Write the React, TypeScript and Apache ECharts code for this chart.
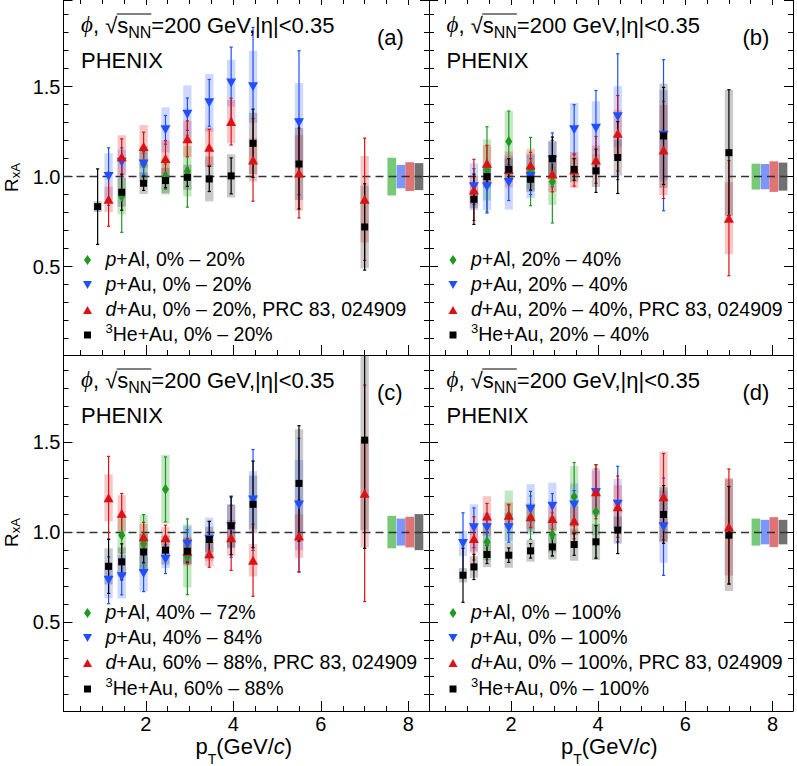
import React, { useEffect, useRef } from 'react';
import * as echarts from 'echarts';

// ---- data rows: [pT, R_xA, stat. error, syst. error] ----
// panel (a): 0-20 %
const alA = [[1.45, 0.89, 0.2, 0.1], [1.95, 1.07, 0.06, 0.1], [2.45, 1.0, 0.07, 0.1], [2.95, 1.03, 0.2, 0.14]];
const auA = [[1.15, 1.0, 0.16, 0.13], [1.45, 1.08, 0.08, 0.07], [1.95, 1.07, 0.07, 0.08], [2.45, 1.26, 0.08, 0.125], [2.95, 1.347, 0.09, 0.16], [3.45, 1.41, 0.13, 0.16], [3.95, 1.52, 0.2, 0.13], [4.45, 1.5, 0.33, 0.2], [5.5, 1.3, 0.4, 0.22]];
const dA = [[1.15, 0.874, 0.15, 0.07], [1.45, 1.11, 0.1, 0.12], [1.95, 1.167, 0.08, 0.12], [2.45, 1.1, 0.1, 0.1], [2.95, 1.21, 0.1, 0.1], [3.45, 1.163, 0.1, 0.11], [3.95, 1.306, 0.13, 0.12], [4.45, 1.093, 0.23, 0.12], [5.5, 1.02, 0.25, 0.21], [7.0, 0.874, 0.34, 0.24]];
const heA = [[0.9, 0.833, 0.21, 0.03], [1.45, 0.913, 0.1, 0.08], [1.95, 0.963, 0.04, 0.06], [2.45, 0.978, 0.04, 0.07], [2.95, 0.996, 0.05, 0.07], [3.45, 0.987, 0.07, 0.125], [3.95, 1.004, 0.1, 0.12], [4.45, 1.185, 0.19, 0.17], [5.5, 1.07, 0.25, 0.2], [7.0, 0.72, 0.24, 0.23]];
// panel (b): 20-40 %
const alB = [[1.45, 1.037, 0.24, 0.17], [1.95, 1.195, 0.17, 0.17], [2.45, 1.028, 0.19, 0.1], [2.95, 0.972, 0.23, 0.13]];
const auB = [[1.15, 0.944, 0.1, 0.13], [1.45, 0.944, 0.14, 0.13], [1.95, 0.967, 0.1, 0.15], [2.45, 1.0, 0.1, 0.12], [2.95, 1.093, 0.15, 0.1], [3.45, 1.26, 0.14, 0.15], [3.95, 1.269, 0.21, 0.15], [4.45, 1.333, 0.35, 0.17], [5.5, 1.23, 0.42, 0.25]];
const dB = [[1.15, 0.926, 0.17, 0.08], [1.45, 1.074, 0.1, 0.1], [1.95, 1.04, 0.06, 0.1], [2.45, 1.065, 0.07, 0.09], [2.95, 1.015, 0.1, 0.1], [3.45, 1.037, 0.09, 0.1], [3.95, 1.093, 0.13, 0.08], [4.45, 1.241, 0.21, 0.13], [5.5, 1.148, 0.27, 0.25], [7.0, 0.769, 0.32, 0.2]];
const heB = [[1.15, 0.874, 0.14, 0.05], [1.45, 1.0, 0.06, 0.06], [1.95, 1.04, 0.06, 0.06], [2.45, 0.985, 0.06, 0.07], [2.95, 1.1, 0.12, 0.1], [3.45, 1.04, 0.06, 0.07], [3.95, 1.032, 0.12, 0.09], [4.45, 1.106, 0.2, 0.1], [5.5, 1.226, 0.27, 0.29], [7.0, 1.133, 0.35, 0.35]];
// panel (c): peripheral
const alC = [[1.45, 0.983, 0.1, 0.1], [1.95, 0.937, 0.16, 0.16], [2.45, 1.237, 0.18, 0.19], [2.95, 0.863, 0.21, 0.17]];
const auC = [[1.15, 0.733, 0.13, 0.1], [1.45, 0.752, 0.1, 0.12], [1.95, 0.77, 0.1, 0.1], [2.45, 0.85, 0.08, 0.05], [2.95, 0.933, 0.08, 0.11], [3.45, 0.96, 0.1, 0.12], [3.95, 1.03, 0.17, 0.12], [4.45, 1.178, 0.28, 0.16], [5.5, 1.15, 0.37, 0.25]];
const dC = [[1.15, 1.19, 0.23, 0.13], [1.45, 1.104, 0.11, 0.1], [1.95, 0.974, 0.08, 0.07], [2.45, 0.968, 0.07, 0.06], [2.95, 0.894, 0.07, 0.08], [3.45, 0.88, 0.075, 0.07], [3.95, 0.968, 0.18, 0.1], [4.45, 0.844, 0.2, 0.09], [5.5, 0.978, 0.2, 0.12], [7.0, 1.215, 0.6, 0.3]];
const heC = [[1.15, 0.81, 0.15, 0.1], [1.45, 0.835, 0.1, 0.08], [1.95, 0.89, 0.06, 0.1], [2.45, 0.9, 0.05, 0.08], [2.95, 0.894, 0.06, 0.07], [3.45, 0.959, 0.1, 0.07], [3.95, 1.035, 0.16, 0.12], [4.45, 1.154, 0.24, 0.16], [5.5, 1.27, 0.32, 0.3], [7.0, 1.51, 0.6, 0.5]];
// panel (d): minimum bias
const alD = [[1.45, 0.946, 0.1, 0.1], [1.95, 1.09, 0.06, 0.14], [2.45, 1.08, 0.12, 0.08], [2.95, 0.987, 0.12, 0.1], [3.45, 1.196, 0.19, 0.17], [3.95, 1.113, 0.26, 0.13]];
const auD = [[0.9, 0.937, 0.17, 0.07], [1.15, 1.024, 0.11, 0.13], [1.45, 1.024, 0.08, 0.08], [1.95, 1.024, 0.08, 0.08], [2.45, 1.126, 0.1, 0.14], [2.95, 1.144, 0.07, 0.13], [3.45, 1.15, 0.08, 0.12], [3.95, 1.22, 0.13, 0.12], [4.45, 1.155, 0.21, 0.14], [5.5, 1.03, 0.27, 0.2]];
const dD = [[1.15, 0.965, 0.12, 0.08], [1.45, 1.089, 0.07, 0.11], [1.95, 1.094, 0.06, 0.07], [2.45, 1.085, 0.06, 0.07], [2.95, 1.076, 0.06, 0.07], [3.45, 1.063, 0.1, 0.08], [3.95, 1.224, 0.15, 0.13], [4.45, 1.141, 0.17, 0.12], [5.5, 1.196, 0.24, 0.25], [7.0, 1.03, 0.32, 0.27]];
const heD = [[0.9, 0.761, 0.15, 0.04], [1.15, 0.807, 0.07, 0.06], [1.45, 0.876, 0.05, 0.07], [1.95, 0.872, 0.04, 0.07], [2.45, 0.896, 0.04, 0.06], [2.95, 0.918, 0.05, 0.07], [3.45, 0.931, 0.06, 0.09], [3.95, 0.946, 0.09, 0.1], [4.45, 1.011, 0.13, 0.075], [5.5, 1.098, 0.16, 0.15], [7.0, 0.983, 0.27, 0.31]];

// global normalisation uncertainties (p+Al, p+Au, d+Au, 3He+Au)
const normA = [0.105, 0.065, 0.08, 0.075];
const normB = [0.072, 0.07, 0.085, 0.078];
const normC = [0.09, 0.075, 0.085, 0.1];
const normD = [0.075, 0.068, 0.083, 0.068];

const centA = ['0% – 20%', '0% – 20%', '0% – 20%', '0% – 20%'];
const centB = ['20% – 40%', '20% – 40%', '20% – 40%', '20% – 40%'];
const centC = ['40% – 72%', '40% – 84%', '60% – 88%', '60% – 88%'];
const centD = ['0% – 100%', '0% – 100%', '0% – 100%', '0% – 100%'];
const tags = ['(a)', '(b)', '(c)', '(d)'];

const PANELS = [
  { al: alA, au: auA, d: dA, he: heA, norm: normA, cent: centA },
  { al: alB, au: auB, d: dB, he: heB, norm: normB, cent: centB },
  { al: alC, au: auC, d: dC, he: heC, norm: normC, cent: centC },
  { al: alD, au: auD, d: dD, he: heD, norm: normD, cent: centD },
];

const SANS = '"Liberation Sans", Arial, Helvetica, sans-serif';
const SERIF = '"Liberation Serif", "DejaVu Serif", "Times New Roman", serif';

const X_MIN = 0.12, X_MAX = 8.47, Y_MIN = 0.008, Y_MAX = 1.982;
const GRIDS = [
  { left: 63.5, top: 0, width: 365.5, height: 355 },
  { left: 429, top: 0, width: 364, height: 355 },
  { left: 63.5, top: 355, width: 365.5, height: 356 },
  { left: 429, top: 355, width: 364, height: 356 },
];

const COL = { al: '#1f9a1f', au: '#1f4fff', d: '#dd1111', he: '#000000' };
const FILL = { al: 'rgba(40,170,40,0.28)', au: 'rgba(60,100,255,0.25)', d: 'rgba(225,50,50,0.28)', he: 'rgba(40,40,40,0.25)' };
const NORM_FILL = ['#77c877', '#7d95ff', '#e07474', '#717171'];
const NORM_X = [7.62, 7.83, 8.03, 8.24];
const NORM_HW = 0.1;
const BOX_HW = 0.095;

let _ctx: CanvasRenderingContext2D | null = null;
function textW(t: string, size: number, fam: string, it: boolean) {
  if (!_ctx) _ctx = document.createElement('canvas').getContext('2d');
  _ctx!.font = `${it ? 'italic ' : ''}${size}px ${fam}`;
  return _ctx!.measureText(t).width;
}
type Seg = { t: string; size?: number; fam?: string; it?: boolean; dy?: number };
function runText(x0: number, base: number, segs: Seg[], def: number, out: any[]) {
  let x = x0;
  const xs: number[] = [];
  for (const s of segs) {
    const size = s.size ?? def;
    const fam = s.fam ?? SANS;
    const it = !!s.it;
    xs.push(x);
    out.push({
      type: 'text', silent: true, x, y: base + (s.dy ?? 0) - 0.35 * size, z: 10,
      style: { text: s.t, fontSize: size, fontFamily: fam, fontStyle: it ? 'italic' : 'normal', fill: '#000', align: 'left', verticalAlign: 'middle' },
    });
    x += textW(s.t, size, fam, it);
  }
  xs.push(x);
  return xs;
}

function boxSeries(data: number[][], gi: number, fill: string) {
  return {
    type: 'custom', xAxisIndex: gi, yAxisIndex: gi * 2, z: 2, clip: true, silent: true, data,
    renderItem: (_p: any, api: any) => {
      const x = api.value(0), y = api.value(1), s = api.value(3);
      const a = api.coord([x - BOX_HW, y + s]);
      const b = api.coord([x + BOX_HW, y - s]);
      return { type: 'rect', shape: { x: a[0], y: a[1], width: b[0] - a[0], height: b[1] - a[1] }, style: { fill } };
    },
  };
}
function barSeries(data: number[][], gi: number, color: string) {
  return {
    type: 'custom', xAxisIndex: gi, yAxisIndex: gi * 2, z: 3, clip: true, silent: true, data,
    renderItem: (_p: any, api: any) => {
      const x = api.value(0), y = api.value(1), e = api.value(2);
      const t = api.coord([x, y + e]);
      const b = api.coord([x, y - e]);
      const st = { stroke: color, lineWidth: 1.2 };
      return {
        type: 'group', children: [
          { type: 'line', shape: { x1: t[0], y1: t[1], x2: b[0], y2: b[1] }, style: st },
          { type: 'line', shape: { x1: t[0] - 1.6, y1: t[1], x2: t[0] + 1.6, y2: t[1] }, style: st },
          { type: 'line', shape: { x1: b[0] - 1.6, y1: b[1], x2: b[0] + 1.6, y2: b[1] }, style: st },
        ],
      };
    },
  };
}
function normSeries(norm: number[], gi: number) {
  return {
    type: 'custom', xAxisIndex: gi, yAxisIndex: gi * 2, z: 2, clip: true, silent: true,
    data: norm.map((h, i) => [NORM_X[i], h]),
    renderItem: (p: any, api: any) => {
      const x = api.value(0), h = api.value(1);
      const a = api.coord([x - NORM_HW, 1 + h]);
      const b = api.coord([x + NORM_HW, 1 - h]);
      return { type: 'rect', shape: { x: a[0], y: a[1], width: b[0] - a[0], height: b[1] - a[1] }, style: { fill: NORM_FILL[p.dataIndex] } };
    },
  };
}
function markSeries(data: number[][], gi: number, color: string, symbol: string, size: any, rot: number, withLine: boolean) {
  const s: any = {
    type: 'scatter', xAxisIndex: gi, yAxisIndex: gi * 2, z: 4, silent: true,
    symbol, symbolSize: size, symbolRotate: rot,
    itemStyle: { color, opacity: 1, borderWidth: 0 },
    data: data.map(r => [r[0], r[1]]),
  };
  if (withLine) {
    s.markLine = {
      silent: true, symbol: 'none', z: 2.5, animation: false,
      label: { show: false },
      lineStyle: { color: '#333', type: [8, 5], width: 1.4 },
      data: [{ yAxis: 1 }],
    };
  }
  return s;
}

function buildOption() {
  const grid = GRIDS.map(g => ({ ...g, containLabel: false, outerBoundsMode: 'none', show: false }));
  const lineSt = { color: '#000', width: 1 };
  const xBase = (i: number) => ({
    type: 'value', gridIndex: i, min: X_MIN, max: X_MAX, splitNumber: 4, minInterval: 2, maxInterval: 2,
    splitLine: { show: false }, minorSplitLine: { show: false },
  });
  const xAxis: any[] = GRIDS.map((_g, i) => ({
    ...xBase(i), position: 'bottom',
    axisLine: { show: true, onZero: false, lineStyle: lineSt },
    axisTick: { show: true, inside: true, length: 10, lineStyle: lineSt },
    minorTick: { show: true, splitNumber: 4, length: 5, lineStyle: lineSt },
    axisLabel: { show: i >= 2, fontSize: 20, fontFamily: SANS, color: '#000', margin: 3, showMinLabel: false, showMaxLabel: false },
  }));
  // top frame ticks of the upper panels (frame line itself lies just above the picture)
  [0, 1].forEach(i => xAxis.push({
    ...xBase(i), position: 'top',
    axisLine: { show: false, onZero: false },
    axisTick: { show: true, inside: true, length: 5, lineStyle: lineSt },
    minorTick: { show: true, splitNumber: 4, length: 4, lineStyle: lineSt },
    axisLabel: { show: false },
  }));
  const yAxis: any[] = [];
  GRIDS.forEach((_g, i) => {
    const base = {
      type: 'value', gridIndex: i, min: Y_MIN, max: Y_MAX, splitNumber: 4, minInterval: 0.5, maxInterval: 0.5,
      axisLine: { show: true, onZero: false, lineStyle: lineSt },
      axisTick: { show: true, inside: true, length: 9, lineStyle: lineSt },
      minorTick: { show: true, splitNumber: 5, length: 5, lineStyle: lineSt },
      splitLine: { show: false }, minorSplitLine: { show: false },
    };
    yAxis.push({
      ...base, position: 'left',
      axisLabel: { show: i % 2 === 0, fontSize: 20, fontFamily: SANS, color: '#000', margin: 3, showMinLabel: false, showMaxLabel: false, formatter: (v: number) => v.toFixed(1) },
    });
    yAxis.push({ ...base, position: 'right', axisLabel: { show: false } });
  });

  const series: any[] = [];
  const graphics: any[] = [];
  PANELS.forEach((P, gi) => {
    series.push(normSeries(P.norm, gi));
    series.push(boxSeries(P.al, gi, FILL.al), boxSeries(P.au, gi, FILL.au), boxSeries(P.d, gi, FILL.d), boxSeries(P.he, gi, FILL.he));
    series.push(barSeries(P.al, gi, COL.al), barSeries(P.au, gi, COL.au), barSeries(P.d, gi, COL.d), barSeries(P.he, gi, COL.he));
    series.push(
      markSeries(P.al, gi, COL.al, 'diamond', [7, 11], 0, false),
      markSeries(P.au, gi, COL.au, 'triangle', [10, 9], 180, false),
      markSeries(P.d, gi, COL.d, 'triangle', [10, 9], 0, false),
      markSeries(P.he, gi, COL.he, 'rect', 7, 0, true),
    );

    const g = GRIDS[gi];
    const L = g.left, T = g.top;
    // header
    const xs = runText(L + 17.5, T + 33, [
      { t: 'ϕ', fam: SERIF, it: true, size: 23 },
      { t: ', ' },
      { t: '√' },
      { t: 's' },
      { t: 'NN', size: 16, dy: 5 },
      { t: '=200 GeV,|η|<0.35' },
    ], 22, graphics);
    graphics.push({ type: 'line', silent: true, z: 10, shape: { x1: xs[3] - 0.5, y1: T + 14, x2: xs[5], y2: T + 14 }, style: { stroke: '#000', lineWidth: 1.1 } });
    runText(L + 17.5, T + 68, [{ t: 'PHENIX' }], 22, graphics);
    runText(L + 313.5, T + 45, [{ t: tags[gi] }], 22, graphics);

    // legend
    const bases = (T === 0 ? [266, 291, 316, 341] : [264, 289, 314, 340]).map(b => b + T);
    const cx = L + 24;
    const lab: Seg[][] = [
      [{ t: 'p', it: true }, { t: '+Al, ' + P.cent[0] }],
      [{ t: 'p', it: true }, { t: '+Au, ' + P.cent[1] }],
      [{ t: 'd', it: true }, { t: '+Au, ' + P.cent[2] + ', PRC 83, 024909' }],
      [{ t: '3', size: 13, dy: -8 }, { t: 'He+Au, ' + P.cent[3] }],
    ];
    lab.forEach((segs, k) => runText(L + 42, bases[k], segs, 19.5, graphics));
    const cy = bases.map(b => b - 6);
    graphics.push(
      { type: 'polygon', silent: true, z: 10, shape: { points: [[cx, cy[0] - 5], [cx + 3.5, cy[0]], [cx, cy[0] + 5], [cx - 3.5, cy[0]]] }, style: { fill: COL.al } },
      { type: 'polygon', silent: true, z: 10, shape: { points: [[cx - 4.5, cy[1] - 4], [cx + 4.5, cy[1] - 4], [cx, cy[1] + 4]] }, style: { fill: COL.au } },
      { type: 'polygon', silent: true, z: 10, shape: { points: [[cx - 4.5, cy[2] + 4], [cx + 4.5, cy[2] + 4], [cx, cy[2] - 4]] }, style: { fill: COL.d } },
      { type: 'rect', silent: true, z: 10, shape: { x: cx - 3.5, y: cy[3] - 3.5, width: 7, height: 7 }, style: { fill: COL.he } },
    );

    // x-axis title (bottom panels)
    if (gi >= 2) {
      runText(L + 132, 754, [
        { t: 'p', size: 22 },
        { t: 'T', size: 14, dy: 10 },
        { t: '(GeV/', size: 22 },
        { t: 'c', size: 22, it: true },
        { t: ')', size: 22 },
      ], 22, graphics);
    }
    // y-axis title (left panels)
    if (gi % 2 === 0) {
      const kids: any[] = [];
      runText(0, 0, [{ t: 'R', size: 19 }, { t: 'xA', size: 13, dy: 2 }], 19, kids);
      graphics.push({ type: 'group', x: 18, y: T + 192, rotation: Math.PI / 2, children: kids });
    }
  });

  return {
    animation: false,
    backgroundColor: '#fff',
    grid, xAxis, yAxis, series,
    graphic: { elements: graphics },
  };
}

export default function App() {
  const ref = useRef<HTMLDivElement>(null);
  useEffect(() => {
    document.body.style.margin = '0';
    const chart = echarts.init(ref.current!, null, { renderer: 'svg' });
    chart.setOption(buildOption() as any);
    return () => chart.dispose();
  }, []);
  return <div ref={ref} style={{ width: 797, height: 766, background: '#fff' }} />;
}
